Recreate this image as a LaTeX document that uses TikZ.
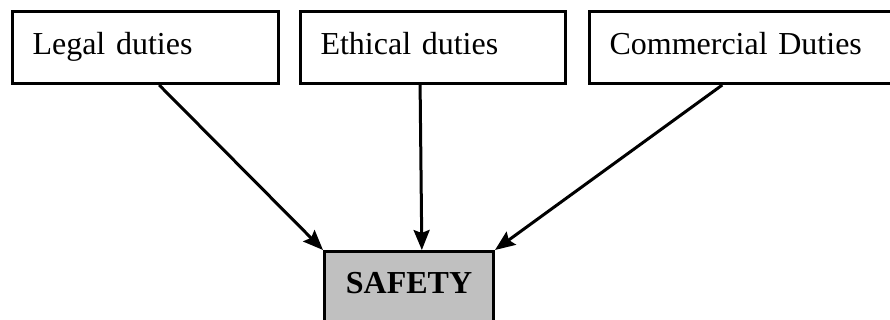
\documentclass[tikz,border=0pt]{standalone}
\usepackage{fontspec}
\setmainfont{Liberation Serif}
\usetikzlibrary{arrows.meta}
\begin{document}
\begin{tikzpicture}[line cap=butt,line join=miter,>={Stealth[length=20pt,width=16pt,inset=3pt]},x=1pt,y=-1pt,font=\fontsize{32}{37}\selectfont]
			\tikzset{duty/.style={draw,line width=3pt,anchor=north west,minimum height=72pt,
					inner xsep=20pt,inner ysep=0pt,text height=22pt,text depth=7pt,align=left},
				link/.style={->,line width=3pt}
			}
			\useasboundingbox (0,0) rectangle (890,320);
			\clip (0,0) rectangle (890,320);
			\node[duty,text width=226pt] (legal) at (11,10){Legal duties};
			\node[duty,text width=225pt] (ethical) at (299,10){Ethical duties};
			\node[duty,text width=280pt] (commercial) at (588,10){Commercial Duties};
			\node[draw,line width=3pt,fill={rgb,255:red,192;green,192;blue,192},anchor=north west,
				minimum width=169pt,minimum height=100pt,text height=22pt,text depth=38pt,
				font=\fontsize{32}{37}\selectfont\bfseries] (safety) at (323,250){SAFETY};
			\draw[link] (legal.-70)--(safety.north west);
			\draw[link] (ethical.-109)--(safety.76);
			\draw[link] (commercial.-126)--(safety.north east);
		\end{tikzpicture}
\end{document}
